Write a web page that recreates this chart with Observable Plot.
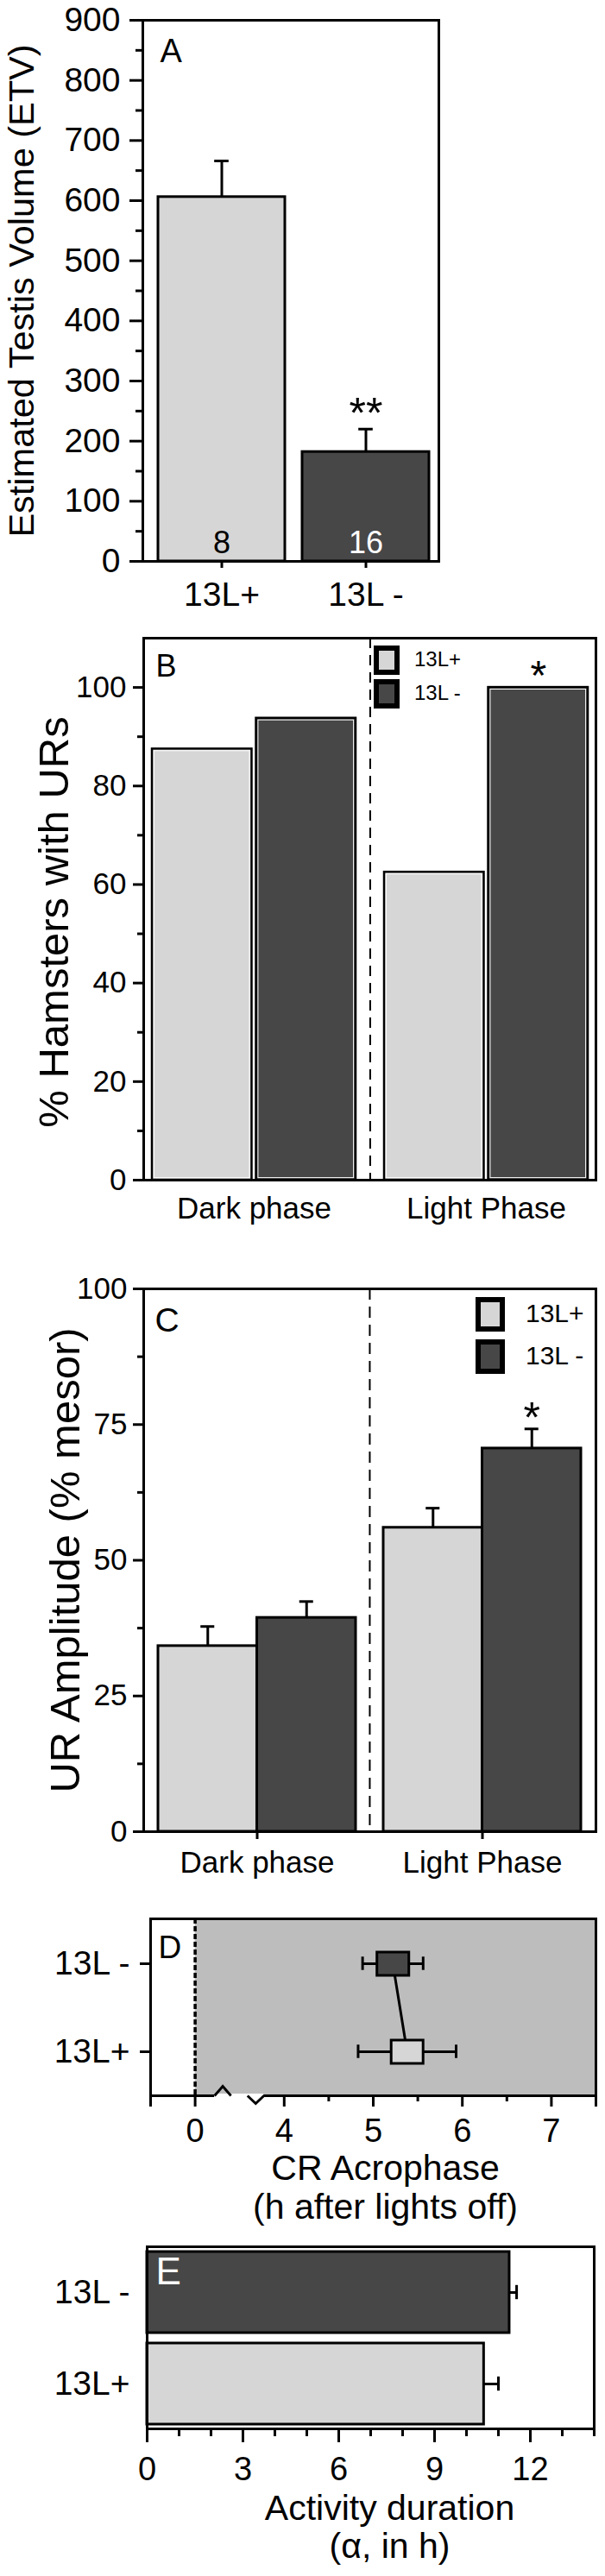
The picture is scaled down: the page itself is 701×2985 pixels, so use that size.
<!DOCTYPE html>
<html>
<head>
<meta charset="utf-8">
<script src="https://cdn.jsdelivr.net/npm/d3@7"></script>
<script src="https://cdn.jsdelivr.net/npm/@observablehq/plot@0.6"></script>
<style>
  html, body { margin: 0; padding: 0; background: #fff; }
  #fig { position: relative; width: 701px; height: 2985px; font-family: "Liberation Sans", Arial, Helvetica, sans-serif; color: #000; }
  #fig svg { position: absolute; left: 0; }
  .lg-box { position: absolute; box-sizing: border-box; border: 6px solid #000; }
  .lg-text { position: absolute; white-space: nowrap; line-height: 1; }
</style>
</head>
<body>
<div id="fig"></div>
<script>
// ---------------- DATA ----------------
const groups = ["13L+", "13L -"];
const phases = ["Dark phase", "Light Phase"];
const groupFills = ["#d6d6d6", "#474747"];

// Panel A: estimated testis volume
const testisMean = [606, 182];
const testisSem = [60, 38];
const testisN = [8, 16];
const testisSig = ["", "**"];

// Panel B: % hamsters with URs
const urPctDark = [87.5, 93.75];
const urPctLight = [62.5, 100];
const urSigLight = ["", "*"];

// Panel C: UR amplitude (% mesor)
const ampDarkMean = [34.2, 39.4];
const ampDarkSem = [3.6, 3.0];
const ampLightMean = [56.0, 70.6];
const ampLightSem = [3.6, 3.6];
const ampSigLight = ["", "*"];

// Panel D: CR acrophase (h after lights off), axis broken between 0 and 4 h
const acroMean = [5.38, 5.22];
const acroSem = [0.55, 0.34];
const acroTicks = [0, 4, 5, 6, 7];
const acroEdgeTicks = [-0.5, 7.5];
const acroMinorTicks = [4.5, 5.5, 6.5];
const acroBreakHours = [0, 4];        // the 0–4 h stretch is drawn as one unit
const acroBreaks = [1.24, 2.72];      // zig-zag break marks (h)
const acroGapCenter = [1.96];

// Panel E: activity duration (alpha, h)
const durMean = [10.55, 11.35];
const durSem = [0.45, 0.22];
const durTicks = [0, 3, 6, 9, 12];

// ---------------- SETUP ----------------
const fig = document.getElementById("fig");
const FONT = "'Liberation Sans', Arial, Helvetica, sans-serif";
const STYLE = {fontFamily: FONT, color: "black", background: "transparent", overflow: "visible"};
const color = {domain: groups, range: groupFills};
function place(svg, top) { svg.style.top = top + "px"; fig.appendChild(svg); }

// ---------------- PANEL A ----------------
{
  const Y0 = 0, H = 720;
  const data = groups.map((g, i) => ({group: g, mean: testisMean[i], sem: testisSem[i], n: String(testisN[i]), sig: testisSig[i]}));
  const band = d3.scaleBand().domain(groups).range([165, 515]).paddingInner(0.12).paddingOuter(0.105);
  const capInset = (band.bandwidth() - 17) / 2;
  const svg = Plot.plot({
    width: 701, height: H,
    marginTop: 23 - Y0, marginBottom: Y0 + H - 650, marginLeft: 165, marginRight: 701 - 508,
    style: STYLE,
    x: {type: "band", domain: groups, range: [165, 515], paddingInner: 0.12, paddingOuter: 0.105},
    y: {domain: [0, 900]},
    color,
    marks: [
      Plot.barY(data, {x: "group", y: "mean", fill: "group", stroke: "black", strokeWidth: 3}),
      Plot.ruleX(data, {x: "group", y1: "mean", y2: d => d.mean + d.sem, strokeWidth: 3}),
      Plot.tickY(data, {x: "group", y: d => d.mean + d.sem, strokeWidth: 3, inset: capInset}),
      Plot.text(data.filter(d => d.group === groups[0]), {x: "group", y: 0, text: "n", fill: "black", fontSize: 36, lineAnchor: "bottom", dy: -10}),
      Plot.text(data.filter(d => d.group === groups[1]), {x: "group", y: 0, text: "n", fill: "white", fontSize: 36, lineAnchor: "bottom", dy: -10}),
      Plot.text(data.filter(d => d.sig), {x: "group", y: d => d.mean + d.sem, text: "sig", fontSize: 50, dy: -17}),
      Plot.text(["A"], {frameAnchor: "top-left", textAnchor: "start", lineAnchor: "top", dx: 20, dy: 22, fontSize: 38}),
      Plot.text(["Estimated Testis Volume (ETV)"], {frameAnchor: "left", rotate: -90, textAnchor: "middle", lineAnchor: "middle", dx: -140, fontSize: 41.5}),
      Plot.axisY({ticks: d3.range(0, 901, 100), tickSize: 15, tickPadding: 11, fontSize: 39, strokeWidth: 3, label: null}),
      Plot.axisY({ticks: d3.range(50, 900, 100), tickSize: 8, tickFormat: () => "", strokeWidth: 3, label: null}),
      Plot.axisX({tickSize: 8, tickPadding: 16, fontSize: 39, strokeWidth: 3, label: null}),
      Plot.frame({strokeWidth: 3})
    ]
  });
  place(svg, Y0);
}

// ---------------- PANEL B ----------------
{
  const Y0 = 720, H = 720;
  const vals = [urPctDark, urPctLight];
  const data = phases.flatMap((p, j) => groups.map((g, i) => ({phase: p, group: g, value: vals[j][i], sig: j === 1 ? urSigLight[i] : ""})));
  const band = d3.scaleBand().domain(phases).range([166, 690]).paddingInner(0.123).paddingOuter(0.035);
  const bw = band.bandwidth(), step = band.step(), gap = 5, inner = 2.4;
  const g0 = data.filter(d => d.group === groups[0]), g1 = data.filter(d => d.group === groups[1]);
  const svg = Plot.plot({
    width: 701, height: H,
    marginTop: 739 - Y0, marginBottom: Y0 + H - 1367, marginLeft: 166, marginRight: 701 - 690,
    style: STYLE,
    x: {type: "band", domain: phases, paddingInner: 0.123, paddingOuter: 0.035},
    y: {domain: [0, 110]},
    color,
    marks: [
      Plot.ruleX([phases[1]], {x: d => d, dx: -step / 2, strokeDasharray: "12,8", strokeWidth: 2}),
      Plot.barY(g0, {x: "phase", y: "value", fill: "group", stroke: "black", strokeWidth: 2.5, insetRight: bw / 2 + gap / 2}),
      Plot.barY(g1, {x: "phase", y: "value", fill: "group", stroke: "black", strokeWidth: 2.5, insetLeft: bw / 2 + gap / 2}),
      Plot.barY(g0, {x: "phase", y: "value", fill: "none", stroke: "white", strokeWidth: 1, insetTop: inner, insetBottom: inner, insetLeft: inner, insetRight: bw / 2 + gap / 2 + inner}),
      Plot.barY(g1, {x: "phase", y: "value", fill: "none", stroke: "white", strokeWidth: 1, insetTop: inner, insetBottom: inner, insetRight: inner, insetLeft: bw / 2 + gap / 2 + inner}),
      Plot.text(data.filter(d => d.sig), {x: "phase", y: "value", text: "sig", fontSize: 48, dx: bw / 4 + gap / 4, dy: -13}),
      Plot.text(["B"], {frameAnchor: "top-left", textAnchor: "start", lineAnchor: "top", dx: 14, dy: 19, fontSize: 36}),
      Plot.text(["% Hamsters with URs"], {frameAnchor: "left", rotate: -90, textAnchor: "middle", lineAnchor: "middle", dx: -103, dy: 15, fontSize: 49}),
      Plot.axisY({ticks: d3.range(0, 101, 20), tickSize: 12, tickPadding: 8, fontSize: 35, strokeWidth: 3, label: null}),
      Plot.axisY({ticks: d3.range(10, 100, 20), tickSize: 7, tickFormat: () => "", strokeWidth: 3, label: null}),
      Plot.axisX({tickSize: 0, tickPadding: 20, fontSize: 35, label: null}),
      Plot.frame({strokeWidth: 3})
    ]
  });
  place(svg, Y0);
}

// ---------------- PANEL C ----------------
{
  const Y0 = 1440, H = 745;
  const means = [ampDarkMean, ampLightMean], sems = [ampDarkSem, ampLightSem];
  const data = phases.flatMap((p, j) => groups.map((g, i) => ({phase: p, group: g, mean: means[j][i], sem: sems[j][i], sig: j === 1 ? ampSigLight[i] : ""})));
  const band = d3.scaleBand().domain(phases).range([166, 690]).paddingInner(0.123).paddingOuter(0.065);
  const bw = band.bandwidth(), step = band.step(), cap = 8;
  const g0 = data.filter(d => d.group === groups[0]), g1 = data.filter(d => d.group === groups[1]);
  const top = d => d.mean + d.sem;
  const svg = Plot.plot({
    width: 701, height: H,
    marginTop: 1493 - Y0, marginBottom: Y0 + H - 2122, marginLeft: 166, marginRight: 701 - 690,
    style: STYLE,
    x: {type: "band", domain: phases, paddingInner: 0.123, paddingOuter: 0.065},
    y: {domain: [0, 100]},
    color,
    marks: [
      Plot.ruleX([phases[1]], {x: d => d, dx: -step / 2, strokeDasharray: "13,8", strokeWidth: 2}),
      Plot.barY(g0, {x: "phase", y: "mean", fill: "group", stroke: "black", strokeWidth: 3, insetRight: bw / 2}),
      Plot.barY(g1, {x: "phase", y: "mean", fill: "group", stroke: "black", strokeWidth: 3, insetLeft: bw / 2}),
      Plot.ruleX(g0, {x: "phase", y1: "mean", y2: top, dx: -bw / 4, strokeWidth: 3}),
      Plot.ruleX(g1, {x: "phase", y1: "mean", y2: top, dx: bw / 4, strokeWidth: 3}),
      Plot.tickY(g0, {x: "phase", y: top, insetLeft: bw / 4 - cap, insetRight: 3 * bw / 4 - cap, strokeWidth: 3}),
      Plot.tickY(g1, {x: "phase", y: top, insetLeft: 3 * bw / 4 - cap, insetRight: bw / 4 - cap, strokeWidth: 3}),
      Plot.text(data.filter(d => d.sig), {x: "phase", y: top, text: "sig", fontSize: 50, dx: bw / 4, dy: -12}),
      Plot.text(["C"], {frameAnchor: "top-left", textAnchor: "start", lineAnchor: "top", dx: 13, dy: 22, fontSize: 39}),
      Plot.text(["UR Amplitude (% mesor)"], {frameAnchor: "left", rotate: -90, textAnchor: "middle", lineAnchor: "middle", dx: -90, fontSize: 49}),
      Plot.axisY({ticks: d3.range(0, 101, 25), tickSize: 12, tickPadding: 7, fontSize: 35, strokeWidth: 3, label: null}),
      Plot.axisY({ticks: d3.range(12.5, 100, 25), tickSize: 7, tickFormat: () => "", strokeWidth: 3, label: null}),
      Plot.axisX({tickSize: 9, tickPadding: 14, fontSize: 35, strokeWidth: 3, label: null}),
      Plot.frame({strokeWidth: 3})
    ]
  });
  place(svg, Y0);
}

// ---------------- PANEL D ----------------
{
  const Y0 = 2185, H = 405;
  // broken axis: hours -> display units (the 0..4 h stretch collapses to one unit)
  const toDisp = d3.scaleLinear()
    .domain([acroEdgeTicks[0], acroBreakHours[0], acroBreakHours[1], acroEdgeTicks[1]])
    .range([acroEdgeTicks[0], 0, 1, 1 + acroEdgeTicks[1] - acroBreakHours[1]]);
  const fromDisp = toDisp.copy().domain(toDisp.range()).range(toDisp.domain());
  const fmt = v => String(Math.round(fromDisp(v) * 10) / 10);
  const data = groups.map((g, i) => ({group: g, mean: acroMean[i], sem: acroSem[i]}));
  const boxSymbol = {draw(ctx) { ctx.moveTo(-18.5, -13.5); ctx.lineTo(18.5, -13.5); ctx.lineTo(18.5, 13.5); ctx.lineTo(-18.5, 13.5); ctx.closePath(); }};
  const caretUp = {draw(ctx) { ctx.moveTo(-9.5, 0); ctx.lineTo(0, -11); ctx.lineTo(9.5, 0); }};
  const caretDown = {draw(ctx) { ctx.moveTo(-9.5, 0); ctx.lineTo(0, 9); ctx.lineTo(9.5, 0); }};
  const gapSymbol = {draw(ctx) { ctx.moveTo(-28.5, 0); ctx.lineTo(28.5, 0); }};
  const yDomain = [groups[1], groups[0]];
  const band = d3.scaleBand().domain(yDomain).range([2223, 2428]);
  const capInset = (band.bandwidth() - 16) / 2;
  const svg = Plot.plot({
    width: 701, height: H,
    marginTop: 2223 - Y0, marginBottom: Y0 + H - 2428, marginLeft: 174, marginRight: 701 - 690,
    style: STYLE,
    x: {domain: toDisp.range().filter((v, i, a) => i === 0 || i === a.length - 1)},
    y: {type: "band", domain: yDomain, padding: 0},
    color,
    marks: [
      Plot.rect([0], {x1: toDisp(0), x2: toDisp(acroEdgeTicks[1]), fill: "#bdbdbd"}),
      Plot.ruleX([0], {x: d => toDisp(d), strokeDasharray: "6,3", strokeWidth: 3.5}),
      Plot.ruleY(data, {y: "group", x1: d => toDisp(d.mean - d.sem), x2: d => toDisp(d.mean + d.sem), strokeWidth: 3}),
      Plot.tickX(data, {y: "group", x: d => toDisp(d.mean - d.sem), inset: capInset, strokeWidth: 3}),
      Plot.tickX(data, {y: "group", x: d => toDisp(d.mean + d.sem), inset: capInset, strokeWidth: 3}),
      Plot.line(data, {x: d => toDisp(d.mean), y: "group", strokeWidth: 3}),
      Plot.dot(data, {x: d => toDisp(d.mean), y: "group", symbol: boxSymbol, fill: "group", stroke: "black", strokeWidth: 3}),
      Plot.text(["D"], {frameAnchor: "top-left", textAnchor: "start", lineAnchor: "top", dx: 9, dy: 19, fontSize: 37}),
      Plot.axisY({tickSize: 12, tickPadding: 12, fontSize: 39, strokeWidth: 3, label: null}),
      Plot.axisX({ticks: acroTicks.map(toDisp), tickFormat: fmt, tickSize: 13, tickPadding: 14, fontSize: 38, strokeWidth: 3, label: null}),
      Plot.axisX({ticks: acroEdgeTicks.map(toDisp), tickSize: 13, tickFormat: () => "", strokeWidth: 3, label: null}),
      Plot.axisX({ticks: acroMinorTicks.map(toDisp), tickSize: 7, tickFormat: () => "", strokeWidth: 3, label: null}),
      Plot.text(["CR Acrophase\n(h after lights off)"], {frameAnchor: "bottom", textAnchor: "middle", lineAnchor: "top", lineHeight: 1.1, dx: 14, dy: 65, fontSize: 41}),
      Plot.frame({strokeWidth: 3}),
      Plot.dot(acroGapCenter, {x: d => toDisp(d), frameAnchor: "bottom", symbol: gapSymbol, fill: "none", stroke: "white", strokeWidth: 5}),
      Plot.dot([acroBreaks[0]], {x: d => toDisp(d), frameAnchor: "bottom", symbol: caretUp, fill: "none", stroke: "black", strokeWidth: 3}),
      Plot.dot([acroBreaks[1]], {x: d => toDisp(d), frameAnchor: "bottom", symbol: caretDown, fill: "none", stroke: "black", strokeWidth: 3})
    ]
  });
  place(svg, Y0);
}

// ---------------- PANEL E ----------------
{
  const Y0 = 2590, H = 395;
  const data = groups.map((g, i) => ({group: g, mean: durMean[i], sem: durSem[i]}));
  const band = d3.scaleBand().domain(groups).range([2603, 2814]).paddingInner(0.114).paddingOuter(0.045);
  const capInset = (band.bandwidth() - 17) / 2;
  const svg = Plot.plot({
    width: 701, height: H,
    marginTop: 2603 - Y0, marginBottom: Y0 + H - 2814, marginLeft: 170, marginRight: 701 - 688,
    style: STYLE,
    x: {domain: [0, 14]},
    y: {type: "band", domain: [groups[1], groups[0]], paddingInner: 0.114, paddingOuter: 0.045},
    color,
    marks: [
      Plot.barX(data, {y: "group", x: "mean", fill: "group", stroke: "black", strokeWidth: 3}),
      Plot.ruleY(data, {y: "group", x1: "mean", x2: d => d.mean + d.sem, strokeWidth: 3}),
      Plot.tickX(data, {y: "group", x: d => d.mean + d.sem, inset: capInset, strokeWidth: 3}),
      Plot.text(["E"], {frameAnchor: "top-left", textAnchor: "start", lineAnchor: "top", dx: 10, dy: 12, fontSize: 44, fill: "white"}),
      Plot.axisY({tickSize: 0, tickPadding: 20, fontSize: 39, label: null}),
      Plot.axisX({ticks: durTicks, tickSize: 16, tickPadding: 17, fontSize: 38, strokeWidth: 3, label: null}),
      Plot.axisX({ticks: d3.range(1, 15).filter(v => v % 3 !== 0), tickSize: 9, tickFormat: () => "", strokeWidth: 3, label: null}),
      Plot.text(["Activity duration\n(\u03b1, in h)"], {frameAnchor: "bottom", textAnchor: "middle", lineAnchor: "top", lineHeight: 1.07, dx: 22, dy: 74, fontSize: 41}),
      Plot.frame({strokeWidth: 3})
    ]
  });
  place(svg, Y0);
}

// ---------------- LEGENDS (HTML) ----------------
function legend(left, tops, boxW, boxH, textLeft, fontSize) {
  groups.forEach((g, i) => {
    const box = document.createElement("div");
    box.className = "lg-box";
    Object.assign(box.style, {left: left + "px", top: tops[i] + "px", width: boxW + "px", height: boxH + "px", background: groupFills[i]});
    fig.appendChild(box);
    const t = document.createElement("div");
    t.className = "lg-text";
    t.textContent = g;
    Object.assign(t.style, {left: textLeft + "px", top: (tops[i] + boxH / 2 - fontSize * 0.55) + "px", fontSize: fontSize + "px"});
    fig.appendChild(t);
  });
}
legend(433, [748, 787], 30, 34, 480, 24);
legend(551, [1503, 1552], 34, 40, 609, 30);
</script>
</body>
</html>
